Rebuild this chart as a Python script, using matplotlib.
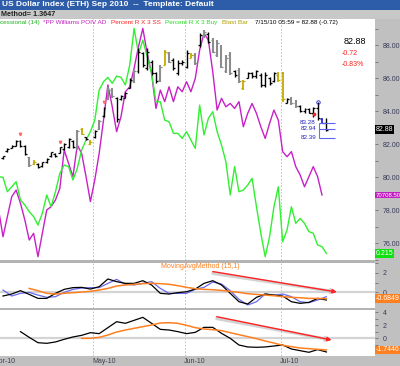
import matplotlib
matplotlib.use("Agg")
import matplotlib.pyplot as plt
from matplotlib.patches import Rectangle
from matplotlib.ticker import MultipleLocator, FixedLocator
import numpy as np

plt.rcParams['font.family'] = ['Liberation Sans', 'DejaVu Sans']

# daily bars, index 0 = first bar of April 2010, last = 7/15/10
highs = [81.30, 81.74, 81.94, 82.24, 82.24, 81.94, 81.23, 81.03, 80.83, 80.93,
         81.13, 81.53, 81.44, 81.84, 82.04, 82.34, 82.24, 82.85, 82.95, 82.44,
         82.24, 82.85, 83.45, 84.26, 85.47, 85.37, 84.87, 84.97, 85.17, 85.98,
         86.48, 87.80, 87.60, 87.80, 87.09, 86.38, 86.79, 87.70, 87.60, 87.19,
         87.09, 87.09, 87.70, 87.50, 87.50, 88.71, 88.91, 88.81, 88.40, 88.30,
         88.00, 87.39, 87.60, 86.48, 86.59, 85.88, 86.38, 86.38, 86.48, 86.28,
         86.38, 86.08, 86.38, 86.38, 86.38, 84.77, 84.87, 84.67, 84.36, 84.16,
         84.16, 84.26, 84.56, 83.56, 83.56]
lows = [81.10, 81.53, 81.74, 81.88, 81.84, 81.33, 80.62, 80.73, 80.53, 80.62,
        80.83, 81.23, 81.23, 81.44, 81.64, 81.74, 81.74, 81.64, 82.55, 82.24,
        81.94, 82.34, 82.85, 83.65, 84.67, 84.77, 83.35, 84.67, 84.77, 85.37,
        85.68, 86.28, 86.70, 86.48, 86.18, 85.68, 85.78, 86.79, 86.89, 86.48,
        86.18, 86.79, 86.59, 87.19, 86.79, 87.90, 88.41, 88.10, 87.50, 87.29,
        86.59, 86.28, 86.18, 86.08, 85.68, 85.27, 85.98, 85.98, 85.98, 85.47,
        85.47, 85.58, 85.78, 85.78, 84.56, 84.47, 84.36, 84.16, 83.96, 83.86,
        83.86, 83.65, 83.45, 83.25, 82.80]
opens = [81.15, 81.55, 81.75, 81.90, 82.20, 81.90, 81.20, 80.80, 80.80, 80.65,
         80.90, 81.25, 81.40, 81.45, 81.70, 81.80, 82.20, 81.80, 82.90, 82.40,
         82.00, 82.40, 82.90, 83.70, 84.70, 85.30, 84.80, 84.70, 84.80, 85.40,
         85.80, 86.40, 87.50, 86.60, 87.00, 86.30, 85.90, 86.80, 87.50, 87.10,
         86.30, 86.90, 86.70, 87.20, 87.40, 88.00, 88.50, 88.70, 88.30, 87.40,
         87.90, 86.40, 87.40, 86.40, 86.50, 85.40, 86.00, 86.30, 86.10, 86.20,
         85.60, 86.00, 85.80, 86.20, 86.30, 84.50, 84.70, 84.50, 84.30, 84.00,
         84.10, 83.90, 84.20, 83.50, 83.30]
closes = [81.25, 81.70, 81.90, 82.20, 81.90, 81.40, 80.70, 80.90, 80.60, 80.90,
          81.10, 81.50, 81.30, 81.80, 82.00, 82.30, 81.80, 82.80, 82.60, 82.30,
          82.10, 82.80, 83.40, 84.20, 85.30, 84.90, 83.50, 84.90, 85.10, 85.90,
          86.40, 87.60, 86.80, 87.60, 86.30, 85.80, 86.70, 87.60, 87.00, 86.60,
          86.90, 87.00, 87.50, 87.40, 86.90, 88.60, 88.80, 88.20, 87.60, 88.10,
          86.70, 87.20, 86.30, 86.20, 85.80, 85.80, 86.30, 86.10, 86.40, 85.60,
          86.20, 85.70, 86.30, 85.90, 84.70, 84.70, 84.50, 84.30, 84.00, 84.10,
          83.90, 84.20, 83.60, 83.30, 82.88]
# k = black, g = grey, y = blast bar, b = projection bar
bar_kind = ("kkkkkkgykk" "kkkkkkkgyk" "ykgkggkkkk" "gkkkkkgygk"
            "kkkyg" "kgkgggggkg" "ykkkkkkkyy" "kggkkkkkbk" "kk")

# overlay oscillators, start one bar before the first visible bar
poiv_ad = [78.00, 76.38, 77.60, 78.81, 79.21, 78.40, 77.39, 76.18, 76.59, 75.17,
           76.59, 78.00, 78.20, 78.61, 79.31, 81.64, 80.83, 80.02, 81.94, 81.43,
           80.02, 78.51, 79.82, 81.43, 83.45, 85.58, 84.26, 82.75, 83.66, 85.17,
           85.47, 86.59, 87.90, 89.01, 87.49, 86.28, 84.16, 85.27, 84.57, 85.47,
           84.57, 85.47, 85.17, 85.78, 85.17, 85.98, 87.70, 88.71, 88.30, 86.38,
           84.06, 84.77, 84.26, 84.46, 84.16, 84.57, 83.05, 83.86, 84.46, 83.86,
           83.05, 82.34, 83.25, 84.06, 83.45, 81.54, 81.23, 81.54, 80.63, 80.12,
           79.41, 80.02, 80.63, 80.02, 78.91]
pct_r_buy = [80.02, 79.98, 79.11, 79.41, 79.72, 78.61, 78.30, 77.90, 77.60, 77.09,
             77.80, 78.91, 78.20, 79.11, 80.22, 80.73, 80.63, 79.82, 80.53, 81.64,
             82.24, 82.75, 83.45, 85.27, 85.78, 86.04, 85.68, 86.12, 86.04, 85.58,
             86.79, 89.01, 87.49, 88.30, 87.29, 86.28, 84.57, 84.57, 83.45, 83.35,
             82.65, 82.65, 82.34, 82.75, 82.24, 81.74, 84.36, 82.55, 83.56, 83.96,
             82.75, 81.94, 80.93, 78.91, 80.63, 79.11, 79.21, 79.51, 79.92, 78.20,
             76.59, 75.17, 76.38, 78.20, 79.41, 76.08, 76.79, 78.20, 77.19, 77.49,
             77.19, 76.69, 76.59, 75.88, 75.78, 75.37]

# MovingAvgMethod (15,1), sampled every second bar
ma_black = [-0.42, -0.21, 0.14, -0.25, -0.67, -0.67, -0.14, 0.28, 0.46, 0.49,
            0.31, 0.56, 1.37, 1.09, 0.91, 0.91, 1.19, 0.74, -0.14, -0.21,
            -0.07, 0.03, 0.31, 0.91, 1.19, 0.74, -0.14, -1.02, -1.26, -0.56,
            -0.21, -0.32, -0.42, -1.02, -1.19, -1.09, -0.67, -0.84]
ma_blue = [0.21, -0.42, -0.14, -0.04, -0.32, -0.56, -0.49, -0.04, 0.28, 0.42,
           0.46, 0.46, 0.91, 1.33, 0.81, 0.74, 0.91, 1.09, 0.38, -0.14,
           -0.14, -0.14, 0.28, 0.49, 1.05, 0.84, 0.14, -0.77, -1.37, -1.02,
           -0.21, -0.35, -0.21, -0.49, -1.02, -1.12, -0.84, -0.49]
ma_orange = [0.38, 0.14, -0.14, -0.21, -0.14, -0.07, 0.00, 0.07, 0.21, 0.38,
             0.63, 0.74, 0.81, 0.88, 0.91, 0.88, 0.81, 0.67, 0.49, 0.35,
             0.28, 0.24, 0.17, 0.07, -0.04, -0.18, -0.25, -0.32, -0.39, -0.49,
             -0.56, -0.60, -0.67, -0.67, -0.70]

# lower oscillator and its average
osc_black = [0.98, 0.10, -0.72, -0.82, -0.61, -0.20, 0.16, 0.41, 0.82, 0.67,
             1.59, 2.51, 2.26, 2.72, 3.18, 2.26, 1.33, 1.23, 0.98, 0.67,
             0.87, 1.64, 1.64, 0.72, -0.05, -1.08, -1.38, -1.43, -1.38, -1.23,
             -1.08, -1.69, -1.95, -2.20, -1.79, -2.15]
osc_orange = [-0.05, -0.05, 0.10, 0.46, 0.92, 1.23, 1.49, 1.75, 2.00, 2.31,
              2.36, 2.26, 1.95, 1.59, 1.39, 1.28, 1.13, 0.82, 0.51, 0.21,
              -0.10, -0.46, -0.77, -1.13, -1.33, -1.54, -1.64, -1.74, -1.84]

proj_levels = [83.28, 82.94, 82.39]
month_labels = ['Apr-10', 'May-10', 'Jun-10', 'Jul-10']
month_pos = [-1.6, 20.6, 41.6, 63.6]
arrow1 = [(48.0, 2.15), (76.4, 0.0)]
arrow2 = [(48.9, 3.28), (75.2, -0.31)]

n = len(highs)
x = np.arange(n)
x_osc = np.arange(-1, len(poiv_ad) - 1)
x_buy = np.arange(-1, len(pct_r_buy) - 1)
x_ma = np.arange(0, 75, 2)
x_ma_or = np.arange(6, 75, 2)
x_osc_b = np.arange(4, 75, 2)
x_osc_or = np.arange(18, 75, 2)

fig = plt.figure(figsize=(4, 3.66), dpi=100)


def fy(y):
    return 1 - y / 366.0


def band(x0, y0, x1, y1, color):
    fig.add_artist(Rectangle((x0 / 400.0, fy(y1)), (x1 - x0) / 400.0, (y1 - y0) / 366.0,
                             transform=fig.transFigure, color=color, zorder=-5, lw=0))


band(0, 0, 400, 10, '#2d5ca8')
band(0, 10, 400, 19, '#c8c8c8')
band(375, 19, 400, 366, '#c0c0c0')
band(0, 356, 400, 366, '#c0c0c0')
band(0, 260, 375, 263, '#b4b4b4')
band(0, 308, 375, 310, '#b4b4b4')

xl = (-0.69, 85.13)
ax = fig.add_axes([0, fy(260), 0.9375, 241 / 366.0])
ax1 = fig.add_axes([0, fy(308), 0.9375, 45 / 366.0])
ax2 = fig.add_axes([0, fy(356), 0.9375, 46 / 366.0])
ax.set_ylim(74.97, 89.58)
ax1.set_ylim(-1.68, 3.05)
ax2.set_ylim(-2.77, 4.31)

for a in (ax, ax1, ax2):
    a.set_xlim(*xl)
    for s in a.spines.values():
        s.set_visible(False)
    a.set_xticks([])
    a.yaxis.tick_right()
    a.tick_params(axis='y', which='both', direction='out', length=2.5, width=0.6,
                  color='#707070', labelsize=5, labelcolor='#3a3a5a', pad=3)
    for mp in month_pos[1:]:
        a.axvline(mp, color='#b8b8b8', lw=0.6, linestyle=(0, (2, 2)), zorder=0)

ax.yaxis.set_major_locator(MultipleLocator(2))
ax.yaxis.set_minor_locator(MultipleLocator(1))
ax.yaxis.set_major_formatter(matplotlib.ticker.FormatStrFormatter('%.2f'))
ax1.yaxis.set_major_locator(FixedLocator([0, 2]))
ax1.yaxis.set_minor_locator(FixedLocator([-1, 1, 3]))
ax2.yaxis.set_major_locator(FixedLocator([0, 2, 4]))
ax2.yaxis.set_minor_locator(FixedLocator([-2, -1, 1, 3]))

# price bars
kind_color = {'k': 'black', 'g': '#8c8c8c', 'y': '#c4aa00', 'b': '#2020e0'}
kind_lw = {'k': 1.0, 'g': 1.5, 'y': 1.3, 'b': 1.2}
for i in range(n):
    c = kind_color[bar_kind[i]]
    w = kind_lw[bar_kind[i]]
    ax.vlines(x[i], lows[i], highs[i], color=c, lw=w, zorder=4)
    ax.hlines(opens[i], x[i] - 0.45, x[i], color=c, lw=0.9, zorder=4)
    ax.hlines(closes[i], x[i], x[i] + 0.45, color=c, lw=0.9, zorder=4)

ax.plot(x_osc, poiv_ad, color='#c820c8', lw=1.0, zorder=3)
ax.plot(x_buy, pct_r_buy, color='#30f030', lw=1.0, zorder=3)

# projection levels on the last bars
ax.plot(x[72], highs[72], 'o', ms=2.5, mfc='none', mec='#2020e0', mew=0.6, zorder=5)
ax.vlines(72.3, proj_levels[-1], proj_levels[0], color='#7070f0', lw=0.8, zorder=5)
for lv in proj_levels:
    ax.hlines(lv, 72.3, 76.0, color='#6060f0', lw=0.8, zorder=5)
    ax.text(71.6, lv, f'{lv:.2f}', color='#2020c0', fontsize=4.5, ha='right', va='center')
ax.plot([4, 13, 23], [82.6, 82.1, 84.55], 'v', color='#ff6a6a', ms=1.8, zorder=5)
ax.plot([71.2], [83.85], 'o', color='#ff2020', ms=1.6, zorder=5)

ax.text(80.5, 88.2, '82.88', fontsize=6.5, ha='center', va='center', color='black')
ax.text(79.3, 87.5, '-0.72', fontsize=5, ha='center', va='center', color='#ff2020')
ax.text(80.0, 86.85, '-0.83%', fontsize=5, ha='center', va='center', color='#ff2020')


def value_box(a, v, txt, bg, size=5):
    a.text(1.002, v, txt, transform=a.get_yaxis_transform(), fontsize=size, color='white',
           ha='left', va='center', clip_on=False, zorder=10,
           bbox=dict(boxstyle='square,pad=0.12', fc=bg, ec='none'))


value_box(ax, closes[-1], '82.88', 'black')
value_box(ax, poiv_ad[-1], '70708.50', '#c020c0', 4.3)
value_box(ax, pct_r_buy[-1], '0.215', '#10e010')

# MovingAvgMethod panel
ax1.axhline(0, color='#d4d4d4', lw=1.6, zorder=1)
ax1.plot(x_ma, ma_blue, color='#6a6af0', lw=0.9, zorder=3)
ax1.plot(x_ma, ma_black, color='black', lw=0.9, zorder=3)
ax1.plot(x_ma_or, ma_orange, color='#ff8020', lw=1.1, zorder=3)
ax1.text(0.533, 0.93, 'MovingAvgMethod (15,1)', transform=ax1.transAxes, color='#ff8020',
         fontsize=5, ha='center', va='center')
ax1.annotate('', xy=arrow1[1], xytext=(arrow1[0][0], arrow1[0][1] - 0.2),
             arrowprops=dict(arrowstyle='-|>', color='#c8c8c8', lw=2.2, alpha=0.8,
                             shrinkA=0, shrinkB=0, mutation_scale=6), zorder=2)
ax1.annotate('', xy=arrow1[1], xytext=arrow1[0],
             arrowprops=dict(arrowstyle='-|>', color='#ff2020', lw=1.0,
                             shrinkA=0, shrinkB=0, mutation_scale=6), zorder=6)
value_box(ax1, ma_orange[-1], '-0.6849', '#ff8020')

# lower panel
ax2.axhline(0, color='#d4d4d4', lw=1.6, zorder=1)
ax2.plot(x_osc_b, osc_black, color='black', lw=0.9, zorder=3)
ax2.plot(x_osc_or, osc_orange, color='#ff8020', lw=1.1, zorder=3)
ax2.annotate('', xy=arrow2[1], xytext=(arrow2[0][0], arrow2[0][1] - 0.3),
             arrowprops=dict(arrowstyle='-|>', color='#c8c8c8', lw=2.2, alpha=0.8,
                             shrinkA=0, shrinkB=0, mutation_scale=6), zorder=2)
ax2.annotate('', xy=arrow2[1], xytext=arrow2[0],
             arrowprops=dict(arrowstyle='-|>', color='#ff2020', lw=1.0,
                             shrinkA=0, shrinkB=0, mutation_scale=6), zorder=6)
value_box(ax2, osc_orange[-1], '-1.7446', '#ff8020')

for lab, mp in zip(month_labels, month_pos):
    ax2.text(mp - 0.2, -0.11, lab, transform=ax2.get_xaxis_transform(), fontsize=5,
             color='#404050', ha='left', va='center', clip_on=False)

# header texts
fig.text(0.005, fy(5), 'US Dollar Index (ETH) Sep 2010  --  Template: Default',
         color='white', fontsize=6, fontweight='bold', va='center')
fig.text(0.003, fy(14.5), 'Method= 1.3647', color='#202020', fontsize=5.2,
         fontweight='bold', va='center')
header = [(0, 'cessional (14)', '#20b020'), (43, '*PP Williams POIV AD', '#c020c0'),
          (111, 'Percent R X 3 SS', '#ff2020'), (165, 'Percent R X 3 Buy', '#20e020'),
          (222, 'Blast Bar', '#b0a000'), (255, '7/15/10 05:59 = 82.88 (-0.72)', 'black')]
for hx, txt, col in header:
    fig.text(hx / 400.0, fy(22.5), txt, color=col, fontsize=4.6, va='center')

fig.savefig('out.png', dpi=100)
